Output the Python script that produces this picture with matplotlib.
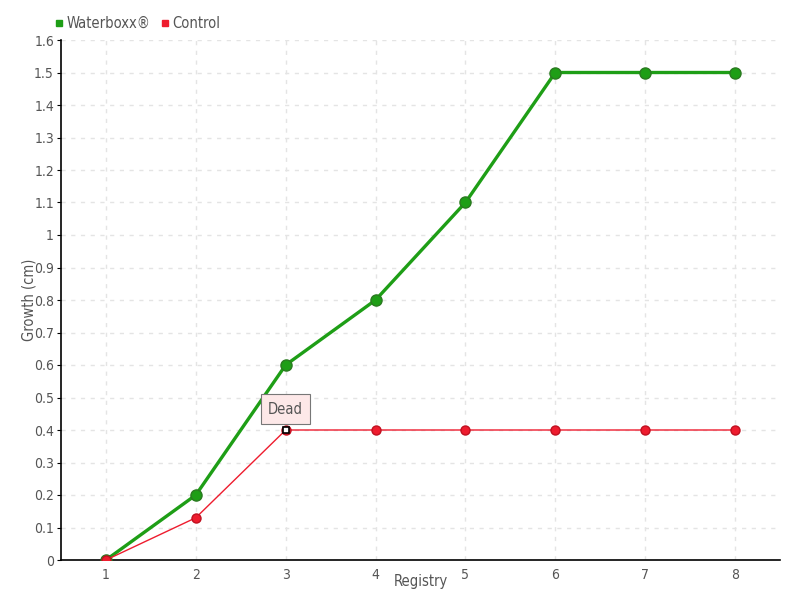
import matplotlib.pyplot as plt
from matplotlib.lines import Line2D

registry = [1, 2, 3, 4, 5, 6, 7, 8]
waterboxx = [0, 0.2, 0.6, 0.8, 1.1, 1.5, 1.5, 1.5]
control = [0, 0.13, 0.4, 0.4, 0.4, 0.4, 0.4, 0.4]
y_ticks = [0, 0.1, 0.2, 0.3, 0.4, 0.5, 0.6, 0.7, 0.8, 0.9, 1, 1.1, 1.2, 1.3, 1.4, 1.5, 1.6]
y_labels = ["0", "0.1", "0.2", "0.3", "0.4", "0.5", "0.6", "0.7", "0.8", "0.9",
            "1", "1.1", "1.2", "1.3", "1.4", "1.5", "1.6"]

green = "#1e9e16"
red = "#ee1c2e"
txt = "#555555"

plt.rcParams['font.family'] = ['DejaVu Sans']
plt.rcParams['font.stretch'] = 'condensed'

fig = plt.figure(figsize=(8, 6), dpi=100)
ax = fig.add_axes([61/800, 40/600, 719/800, 520/600])

ax.plot(registry, waterboxx, "-", color=green, lw=2.4, marker="o", ms=8,
        mfc=green, mec="#2a7a20", mew=1, zorder=4)
ax.plot(registry, control, "-", color=red, lw=1, marker="o", ms=6.5,
        mfc=red, mec="#c01020", mew=1, zorder=5)
# highlighted point
ax.plot(registry[2], control[2], "s", ms=5, mfc="white", mec="black", mew=1.2, zorder=6)

ax.annotate("Dead", xy=(registry[2], control[2]), xytext=(0, 15),
            textcoords="offset points", ha="center", va="center",
            fontsize=10.5, color=txt,
            bbox=dict(boxstyle="square,pad=0.5", fc="#fde8e8", ec="#777777", lw=0.8),
            zorder=7)

ax.set_xlim(0.5, 8.5)
ax.set_ylim(0, 1.6)
ax.set_xticks(registry)
ax.set_yticks(y_ticks)
ax.set_yticklabels(y_labels)
ax.tick_params(axis="both", colors="black", labelcolor=txt, labelsize=10, length=3)
ax.tick_params(axis="y", pad=2)
ax.tick_params(axis="x", length=0, pad=6)

ax.grid(True, ls=(0, (3, 4)), color="#e4e4e4", lw=1)
ax.set_axisbelow(True)
for s in ["top", "right"]:
    ax.spines[s].set_visible(False)
ax.spines["left"].set_linewidth(1.2)
ax.spines["bottom"].set_linewidth(1.2)

ax.set_xlabel("Registry", color=txt, fontsize=10.5)
ax.set_ylabel("Growth (cm)", color=txt, fontsize=10.5)
ax.xaxis.set_label_coords(0.5, -14/520)
ax.yaxis.set_label_coords(-25/719, 0.5)

handles = [Line2D([], [], ls="", marker="s", ms=5, color=green),
           Line2D([], [], ls="", marker="s", ms=5, color=red)]
fig.legend(handles, ["Waterboxx®", "Control"], loc="upper left",
           bbox_to_anchor=(0.05, 0.995), ncol=2, frameon=False,
           fontsize=10.5, labelcolor=txt, handletextpad=0.1, columnspacing=0.6,
           handlelength=0.8)

plt.savefig("out.png")
